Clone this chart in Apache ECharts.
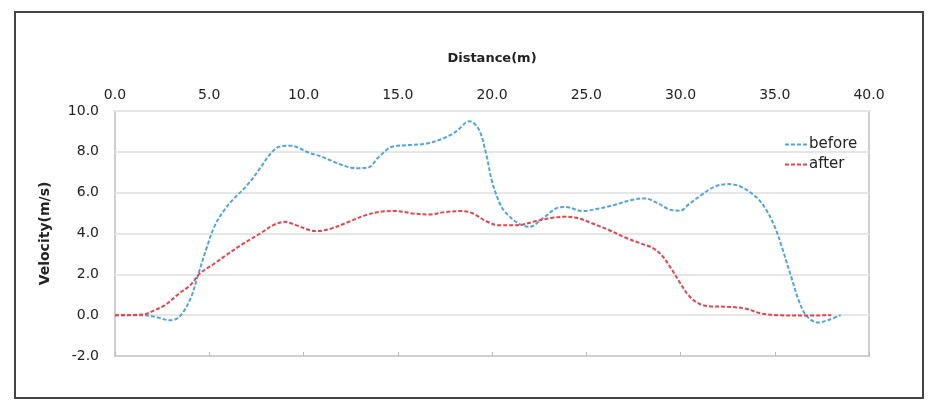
<!DOCTYPE html>
<html>
<head>
<meta charset="utf-8">
<script src="https://cdn.jsdelivr.net/npm/echarts@6/dist/echarts.min.js"></script>
<style>html,body{margin:0;padding:0;background:#fff}#c{width:935px;height:407px}</style>
</head>
<body>
<div id="c"></div>
<script>
var xTicks = [0, 5, 10, 15, 20, 25, 30, 35, 40];
var yTicks = [-2, 0, 2, 4, 6, 8, 10];
var seriesNames = ['before', 'after'];
var beforeDist = [0,1.5,2.3,2.9,3.4,4.0,4.4,4.9,5.3,5.8,6.3,7.0,7.7,8.2,8.7,9.3,10.3,11.0,11.9,12.8,13.4,14.0,14.7,15.6,16.5,17.4,18.1,18.8,19.3,19.7,20.0,20.4,20.7,21.4,22.0,22.7,23.4,23.9,24.8,25.7,26.5,27.4,28.1,28.8,29.5,30.0,30.4,31.1,31.8,32.5,33.2,34.0,34.5,35.0,35.4,35.9,36.3,36.7,37.3,37.8,38.5];
var beforeVel  = [0,0,-0.12,-0.25,-0.1,0.8,1.95,3.4,4.4,5.15,5.7,6.35,7.2,7.85,8.25,8.3,7.95,7.75,7.4,7.2,7.22,7.75,8.25,8.33,8.4,8.65,9.0,9.5,9.1,7.85,6.55,5.5,5.05,4.5,4.33,4.75,5.23,5.3,5.1,5.23,5.4,5.64,5.72,5.48,5.15,5.12,5.4,5.88,6.29,6.42,6.29,5.8,5.23,4.33,3.27,1.8,0.65,-0.05,-0.36,-0.25,0];
var afterDist = [0,1.5,2.0,2.7,3.4,4.0,4.5,5.2,5.9,6.8,7.7,8.4,9.0,9.6,10.3,10.7,11.5,12.4,13.3,14.2,14.9,15.8,16.7,17.5,18.4,19.0,19.7,20.4,21.4,22.3,23.2,23.9,24.6,25.3,26.2,27.1,27.9,28.5,29.0,29.5,30.0,30.4,30.9,31.5,32.5,33.4,34.3,35.2,36.5,38.0];
var afterVel  = [0,0.03,0.2,0.52,1.06,1.47,2.04,2.48,2.94,3.5,4.0,4.41,4.57,4.41,4.17,4.12,4.25,4.57,4.9,5.08,5.1,4.98,4.93,5.05,5.1,4.98,4.6,4.4,4.41,4.6,4.77,4.82,4.74,4.5,4.17,3.79,3.51,3.3,2.94,2.29,1.55,1.0,0.6,0.44,0.41,0.33,0.08,0.0,-0.02,0];

function pairs(xs, ys){ return xs.map(function(x,i){ return [x, ys[i]]; }); }

var FONT = 'DejaVu Sans';
var chart = echarts.init(document.getElementById('c'));
chart.setOption({
  animation: false,
  backgroundColor: '#fff',
  textStyle: {fontFamily: FONT},
  graphic: [{
    type: 'rect', shape: {x: 15, y: 12, width: 908, height: 386},
    style: {fill: 'none', stroke: '#444', lineWidth: 2}, silent: true
  }],
  grid: {left: 115, right: 66, top: 111, bottom: 51, show: true, borderColor: '#cfcfcf', borderWidth: 2},
  legend: {
    data: seriesNames, orient: 'vertical', left: 779, top: 132, itemGap: 4,
    itemWidth: 22, itemHeight: 10, itemGap: 5,
    itemStyle: {color: 'rgba(0,0,0,0)', borderWidth: 0, opacity: 0},
    textStyle: {fontFamily: FONT, fontSize: 15, color: '#222', padding: [0, 0, 0, -3]}
  },
  xAxis: [{
    type: 'value', position: 'top', min: xTicks[0], max: xTicks[xTicks.length-1], interval: 5,
    name: 'Distance(m)', nameLocation: 'middle', nameGap: 46,
    nameTextStyle: {fontFamily: FONT, fontSize: 13, fontWeight: 'bold', color: '#222'},
    axisLine: {show: false}, axisTick: {show: false}, splitLine: {show: false},
    axisLabel: {margin: 9, fontSize: 14, color: '#222', fontFamily: FONT, formatter: function(v){ return v.toFixed(1); }}
  }, {
    type: 'value', position: 'bottom', min: xTicks[0], max: xTicks[xTicks.length-1], interval: 5,
    axisLine: {show: true, onZero: true, lineStyle: {color: '#c8c8c8', width: 1.5}},
    axisTick: {show: true, inside: true, length: 4, lineStyle: {color: '#bbb'}},
    axisLabel: {show: false}, splitLine: {show: false}
  }],
  yAxis: {
    type: 'value', min: yTicks[0], max: yTicks[yTicks.length-1], interval: 2,
    name: 'Velocity(m/s)', nameLocation: 'middle', nameGap: 63, nameRotate: 90,
    nameTextStyle: {fontFamily: FONT, fontSize: 14, fontWeight: 'bold', color: '#222'},
    axisLine: {show: false}, axisTick: {show: false},
    splitLine: {lineStyle: {color: '#e6e6e6', width: 2}},
    axisLabel: {margin: 16, fontSize: 14, color: '#222', fontFamily: FONT, formatter: function(v){ return v.toFixed(1); }}
  },
  series: [{
    name: seriesNames[0], type: 'line', xAxisIndex: 0, smooth: 0.35, symbol: 'none',
    data: pairs(beforeDist, beforeVel),
    lineStyle: {color: '#4ea6dc', width: 2, type: [4, 2]}, itemStyle: {color: '#4ea6dc'}
  }, {
    name: seriesNames[1], type: 'line', xAxisIndex: 0, smooth: 0.35, symbol: 'none',
    data: pairs(afterDist, afterVel),
    lineStyle: {color: '#e8434c', width: 2, type: [4, 2]}, itemStyle: {color: '#e8434c'}
  }]
});
</script>
</body>
</html>
